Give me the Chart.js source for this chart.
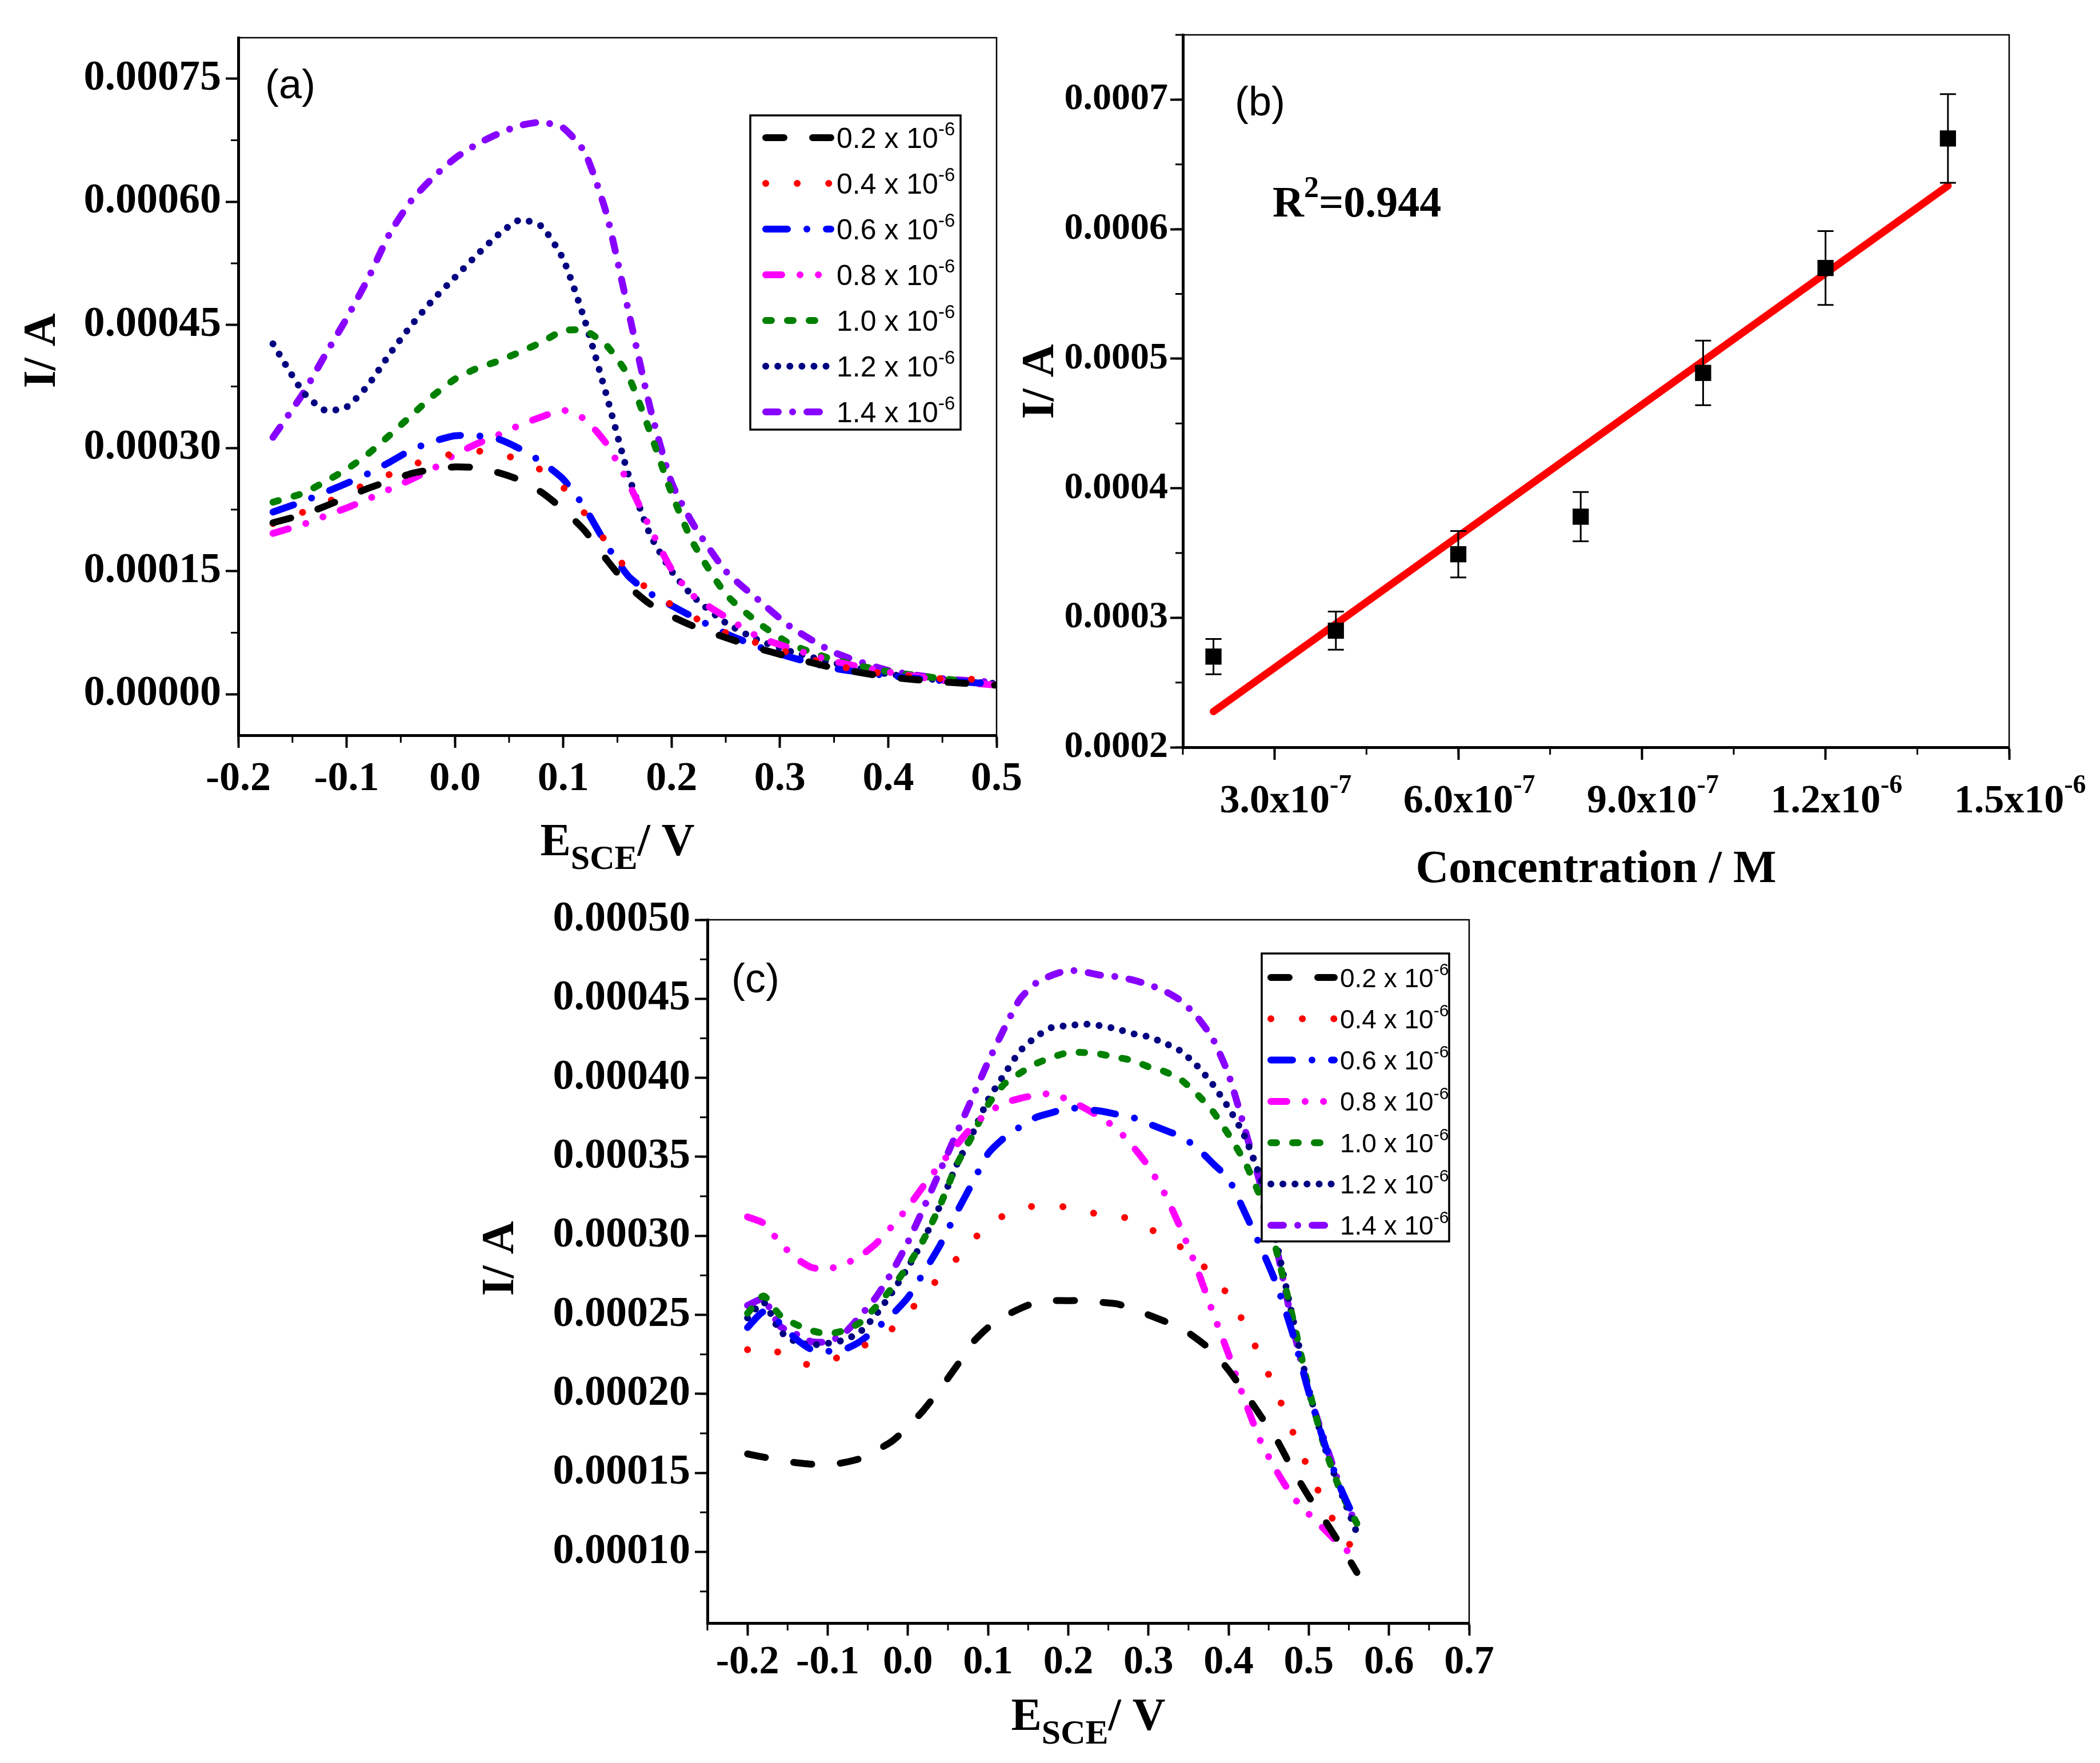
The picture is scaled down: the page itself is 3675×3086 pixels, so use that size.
<!DOCTYPE html>
<html>
<head>
<meta charset="utf-8">
<script src="https://cdn.jsdelivr.net/npm/chart.js@4.4.1/dist/chart.umd.min.js"></script>
<style>
  html, body { margin: 0; padding: 0; background: #fff; }
  body { width: 3675px; height: 3086px; position: relative; overflow: hidden; }
  canvas { position: absolute; }
  #chartA { left: 0; top: 0; }
  #chartB { left: 1780px; top: 0; }
  #chartC { left: 800px; top: 1560px; }
</style>
</head>
<body>
<canvas id="chartA" width="1800" height="1560"></canvas>
<canvas id="chartB" width="1895" height="1600"></canvas>
<canvas id="chartC" width="1900" height="1526"></canvas>
<script>
// legend concentrations (x 10^-6 M)
const concLabels = ['0.2', '0.4', '0.6', '0.8', '1.0', '1.2', '1.4'];

// (a) potential (V) and current (x 1e-4 A)
const potA = [-0.168, -0.14, -0.12, -0.10, -0.08, -0.06, -0.04, -0.02, 0.00, 0.02, 0.04, 0.06, 0.08, 0.10,
  0.12, 0.14, 0.16, 0.18, 0.20, 0.22, 0.25, 0.28, 0.31, 0.35, 0.40, 0.45, 0.50];
const curA02 = [2.09, 2.19, 2.29, 2.40, 2.51, 2.60, 2.69, 2.74, 2.77, 2.76, 2.70, 2.61, 2.46, 2.25, 1.99, 1.64, 1.32, 1.10, 0.95, 0.83, 0.69, 0.56, 0.45, 0.32, 0.21, 0.15, 0.11];
const curA04 = [2.08, 2.22, 2.33, 2.45, 2.57, 2.68, 2.79, 2.88, 2.93, 2.96, 2.95, 2.84, 2.73, 2.52, 2.20, 1.85, 1.50, 1.26, 1.09, 0.94, 0.75, 0.62, 0.50, 0.35, 0.245, 0.19, 0.178];
const curA06 = [2.22, 2.35, 2.46, 2.57, 2.69, 2.83, 2.98, 3.08, 3.15, 3.15, 3.11, 2.99, 2.83, 2.62, 2.27, 1.82, 1.44, 1.23, 1.08, 0.94, 0.74, 0.58, 0.45, 0.315, 0.225, 0.165, 0.124];
const curA08 = [1.96, 2.07, 2.17, 2.27, 2.38, 2.50, 2.62, 2.75, 2.92, 3.05, 3.16, 3.28, 3.38, 3.46, 3.35, 3.05, 2.58, 2.03, 1.52, 1.20, 0.94, 0.70, 0.56, 0.40, 0.27, 0.17, 0.11];
const curA10 = [2.34, 2.45, 2.59, 2.74, 2.93, 3.16, 3.40, 3.64, 3.84, 3.97, 4.06, 4.17, 4.29, 4.43, 4.43, 4.25, 3.88, 3.20, 2.45, 1.84, 1.22, 0.87, 0.61, 0.42, 0.275, 0.19, 0.11];
const curA12 = [4.27, 3.68, 3.46, 3.50, 3.77, 4.15, 4.50, 4.81, 5.08, 5.35, 5.60, 5.78, 5.70, 5.30, 4.55, 3.64, 2.68, 1.95, 1.50, 1.19, 0.87, 0.66, 0.52, 0.38, 0.245, 0.17, 0.13];
const curA14 = [3.13, 3.67, 4.13, 4.58, 5.07, 5.62, 6.02, 6.30, 6.53, 6.70, 6.83, 6.93, 6.97, 6.90, 6.60, 5.85, 4.68, 3.50, 2.58, 2.07, 1.50, 1.15, 0.82, 0.51, 0.29, 0.19, 0.144];

// (b) calibration: concentration (M), current and error (x 1e-4 A), fitted line ends
const concB = [2e-7, 4e-7, 6e-7, 8e-7, 1e-6, 1.2e-6, 1.4e-6];
const curB = [2.70, 2.90, 3.49, 3.78, 4.89, 5.70, 6.70];
const errB = [0.136, 0.147, 0.179, 0.19, 0.249, 0.285, 0.342];
const fitX = [2e-7, 1.4e-6];
const fitY = [2.276, 6.335];

// (c) potential (V) and current (x 1e-4 A)
const potC = [-0.20, -0.18, -0.16, -0.14, -0.12, -0.10, -0.08, -0.06, -0.04, -0.02, 0.00, 0.02, 0.04, 0.06, 0.08, 0.10,
  0.12, 0.14, 0.16, 0.18, 0.20, 0.22, 0.24, 0.26, 0.28, 0.30, 0.32, 0.34, 0.36, 0.38, 0.40, 0.42, 0.44, 0.46, 0.48,
  0.50, 0.52, 0.54, 0.56];
const curC02 = [1.62, 1.60, 1.58, 1.565, 1.555, 1.55, 1.565, 1.59, 1.64, 1.70, 1.79, 1.90, 2.03, 2.17, 2.32, 2.42, 2.49, 2.54, 2.58, 2.59, 2.59, 2.59, 2.58, 2.57, 2.54, 2.50, 2.46, 2.42, 2.35, 2.27, 2.15, 2.01, 1.86, 1.71, 1.52, 1.35, 1.20, 1.04, 0.87];
const curC04 = [2.28, 2.30, 2.26, 2.21, 2.18, 2.20, 2.25, 2.29, 2.35, 2.41, 2.51, 2.63, 2.74, 2.85, 2.97, 3.06, 3.13, 3.17, 3.19, 3.19, 3.18, 3.15, 3.14, 3.13, 3.10, 3.05, 2.99, 2.93, 2.85, 2.75, 2.62, 2.44, 2.23, 2.01, 1.76, 1.52, 1.30, 1.12, 0.99];
const curC06 = [2.42, 2.52, 2.45, 2.35, 2.28, 2.27, 2.28, 2.33, 2.41, 2.50, 2.61, 2.77, 2.94, 3.14, 3.33, 3.52, 3.62, 3.69, 3.75, 3.78, 3.81, 3.80, 3.79, 3.77, 3.75, 3.71, 3.67, 3.63, 3.56, 3.46, 3.36, 3.15, 2.93, 2.69, 2.38, 2.01, 1.68, 1.40, 1.18];
const curC08 = [3.12, 3.08, 2.96, 2.86, 2.80, 2.79, 2.82, 2.87, 2.95, 3.06, 3.18, 3.32, 3.45, 3.57, 3.69, 3.78, 3.84, 3.87, 3.89, 3.90, 3.86, 3.81, 3.75, 3.68, 3.57, 3.44, 3.27, 3.05, 2.80, 2.52, 2.25, 1.96, 1.70, 1.51, 1.35, 1.24, 1.14, 1.04, 0.96];
const curC10 = [2.51, 2.62, 2.50, 2.44, 2.40, 2.38, 2.40, 2.45, 2.55, 2.67, 2.81, 2.98, 3.19, 3.44, 3.63, 3.83, 3.96, 4.03, 4.09, 4.13, 4.16, 4.16, 4.15, 4.13, 4.11, 4.07, 4.04, 3.99, 3.90, 3.79, 3.64, 3.47, 3.24, 2.90, 2.48, 2.03, 1.66, 1.38, 1.18];
const curC12 = [2.48, 2.58, 2.40, 2.33, 2.31, 2.32, 2.34, 2.39, 2.50, 2.64, 2.80, 2.98, 3.19, 3.44, 3.64, 3.86, 4.02, 4.17, 4.26, 4.32, 4.33, 4.34, 4.33, 4.31, 4.28, 4.26, 4.22, 4.17, 4.08, 3.96, 3.81, 3.63, 3.36, 2.95, 2.48, 2.03, 1.66, 1.38, 1.12];
const curC14 = [2.56, 2.60, 2.43, 2.38, 2.33, 2.33, 2.38, 2.49, 2.61, 2.77, 2.96, 3.18, 3.41, 3.64, 3.87, 4.10, 4.31, 4.50, 4.60, 4.65, 4.68, 4.67, 4.65, 4.64, 4.62, 4.59, 4.55, 4.49, 4.39, 4.25, 4.02, 3.68, 3.32, 2.92, 2.43, 2.01, 1.70, 1.40, 1.16];

// tick values
const ticksXA = [-0.2, -0.1, 0, 0.1, 0.2, 0.3, 0.4, 0.5];
const ticksYA = [0, 0.00015, 0.0003, 0.00045, 0.0006, 0.00075];
const ticksXB = [3e-7, 6e-7, 9e-7, 1.2e-6, 1.5e-6];
const tickLabB = ['3.0x10', '6.0x10', '9.0x10', '1.2x10', '1.5x10'];
const tickExpB = ['-7', '-7', '-7', '-6', '-6'];
const ticksYB = [0.0002, 0.0003, 0.0004, 0.0005, 0.0006, 0.0007];
const ticksXC = [-0.2, -0.1, 0, 0.1, 0.2, 0.3, 0.4, 0.5, 0.6, 0.7];
const ticksYC = [0.0001, 0.00015, 0.0002, 0.00025, 0.0003, 0.00035, 0.0004, 0.00045, 0.0005];

// line styles per concentration
const seriesColors = ['#000000', '#ff0000', '#0000ff', '#ff00ff', '#008000', '#000080', '#8800ff'];
const seriesDash = [[32, 50], [0.1, 55], [38, 34, 0.1, 34], [28, 32, 0.1, 32, 0.1, 32], [10, 28], [0.1, 21], [22, 25, 0.1, 25]];

const serifB = s => `bold ${s}px "Liberation Serif", "Times New Roman", serif`;
const sans = s => `${s}px "Liberation Sans", Arial, sans-serif`;

function makeSets(xs, series) {
  return series.map((arr, i) => ({
    label: concLabels[i] + ' x 10-6',
    data: arr.map((v, j) => ({ x: xs[j], y: v * 1e-4 })),
    borderColor: seriesColors[i],
    borderDash: seriesDash[i],
    borderWidth: 12,
    borderCapStyle: 'round',
    borderJoinStyle: 'round',
    pointRadius: 0,
    fill: false,
    tension: 0.2
  }));
}

function axisX(ticks, min, max, h, pad, size, fmt) {
  return {
    type: 'linear', position: 'bottom', min, max,
    afterBuildTicks: s => { s.ticks = ticks.map(v => ({ value: v })); },
    afterFit: s => { s.height = h; s.paddingLeft = 0; s.paddingRight = 0; },
    grid: { drawOnChartArea: false, drawTicks: true, tickLength: 22, tickWidth: 4, tickColor: '#000' },
    border: { display: true, color: '#000', width: 5 },
    ticks: { autoSkip: false, maxRotation: 0, minRotation: 0, padding: pad, color: '#000',
      font: { family: '"Liberation Serif", serif', weight: 'bold', size }, callback: fmt }
  };
}

function axisY(ticks, min, max, w, pad, size, fmt) {
  return {
    type: 'linear', position: 'left', min, max,
    afterBuildTicks: s => { s.ticks = ticks.map(v => ({ value: v })); },
    afterFit: s => { s.width = w; s.paddingTop = 0; s.paddingBottom = 0; },
    grid: { drawOnChartArea: false, drawTicks: true, tickLength: 22, tickWidth: 4, tickColor: '#000' },
    border: { display: true, color: '#000', width: 5 },
    ticks: { autoSkip: false, padding: pad, color: '#000',
      font: { family: '"Liberation Serif", serif', weight: 'bold', size }, callback: fmt }
  };
}

function richWidth(ctx, parts) {
  let w = 0;
  parts.forEach(p => { ctx.font = p.font; w += ctx.measureText(p.t).width; });
  return w;
}

function drawRich(ctx, parts, x, y) {
  ctx.textAlign = 'left';
  ctx.textBaseline = 'alphabetic';
  parts.forEach(p => {
    ctx.font = p.font;
    ctx.fillText(p.t, x, y + (p.dy || 0));
    x += ctx.measureText(p.t).width;
  });
}

function drawRotated(ctx, text, cx, cy, size) {
  ctx.save();
  ctx.font = serifB(size);
  ctx.translate(cx + size * 0.33, cy);
  ctx.rotate(-Math.PI / 2);
  ctx.textAlign = 'center';
  ctx.textBaseline = 'alphabetic';
  ctx.fillText(text, 0, 0);
  ctx.restore();
}

function drawFrame(chart, xStep, yStep) {
  const ctx = chart.ctx, a = chart.chartArea, xs = chart.scales.x, ys = chart.scales.y;
  ctx.save();
  ctx.strokeStyle = '#000';
  ctx.lineWidth = 3;
  ctx.beginPath();
  for (let k = Math.ceil(xs.min / xStep - 1e-6); k * xStep <= xs.max + xStep * 1e-6; k++) {
    const p = xs.getPixelForValue(k * xStep);
    ctx.moveTo(p, a.bottom); ctx.lineTo(p, a.bottom + 13);
  }
  for (let k = Math.ceil(ys.min / yStep - 1e-6); k * yStep <= ys.max + yStep * 1e-6; k++) {
    const p = ys.getPixelForValue(k * yStep);
    ctx.moveTo(a.left, p); ctx.lineTo(a.left - 13, p);
  }
  ctx.stroke();
  ctx.lineWidth = 2.5;
  ctx.strokeRect(a.left, a.top, a.right - a.left, a.bottom - a.top);
  ctx.restore();
}

function drawLegend(chart, box) {
  const ctx = chart.ctx;
  ctx.save();
  ctx.fillStyle = '#fff';
  ctx.fillRect(box.x, box.y, box.w, box.h);
  ctx.strokeStyle = '#000';
  ctx.lineWidth = 3.5;
  ctx.strokeRect(box.x, box.y, box.w, box.h);
  chart.data.datasets.forEach((ds, i) => {
    const cy = box.row0 + i * box.rowH;
    ctx.save();
    ctx.strokeStyle = ds.borderColor;
    ctx.lineWidth = 12;
    ctx.lineCap = 'round';
    ctx.setLineDash(ds.borderDash);
    ctx.beginPath();
    ctx.moveTo(box.s0, cy);
    ctx.lineTo(box.s1, cy);
    ctx.stroke();
    ctx.restore();
    ctx.fillStyle = '#000';
    drawRich(ctx, [
      { t: concLabels[i] + ' x 10', font: sans(box.font) },
      { t: '-6', font: sans(Math.round(box.font * 0.65)), dy: -box.font * 0.45 }
    ], box.tx, cy + box.font * 0.36);
  });
  ctx.restore();
}

function drawESce(ctx, cx, baseY, size) {
  const parts = [
    { t: 'E', font: serifB(size) },
    { t: 'SCE', font: serifB(Math.round(size * 0.75)), dy: size * 0.3 },
    { t: '/ V', font: serifB(size) }
  ];
  ctx.fillStyle = '#000';
  drawRich(ctx, parts, cx - richWidth(ctx, parts) / 2, baseY);
}

function drawPanelLabel(ctx, text, x, cy) {
  ctx.fillStyle = '#000';
  ctx.font = sans(72);
  ctx.textAlign = 'left';
  ctx.textBaseline = 'middle';
  ctx.fillText(text, x, cy);
}

// ---------- (a) ----------
const decorA = {
  id: 'decorA',
  afterDraw(chart) {
    const ctx = chart.ctx, a = chart.chartArea;
    drawFrame(chart, 0.05, 0.000075);
    drawLegend(chart, { x: 1313, y: 202, w: 368, h: 550, row0: 241, rowH: 80, s0: 1340, s1: 1454, tx: 1464, font: 50 });
    drawPanelLabel(ctx, '(a)', 464, 152);
    ctx.fillStyle = '#000';
    drawRotated(ctx, 'I/ A', 70, 614, 80);
    drawESce(ctx, (a.left + a.right) / 2, 1497, 80);
  }
};

new Chart(document.getElementById('chartA'), {
  type: 'line',
  data: { datasets: makeSets(potA, [curA02, curA04, curA06, curA08, curA10, curA12, curA14]) },
  options: {
    responsive: false, animation: false, devicePixelRatio: 1,
    layout: { padding: { left: 0, top: 66, right: 56, bottom: 0 } },
    plugins: { legend: { display: false }, tooltip: { enabled: false } },
    scales: {
      x: axisX(ticksXA, -0.2, 0.5, 273, 12, 72, v => v.toFixed(1)),
      y: axisY(ticksYA, -0.00005, 0.0008, 417, 8, 74, v => v.toFixed(5))
    }
  },
  plugins: [decorA]
});

// ---------- (b) ----------
const decorB = {
  id: 'decorB',
  afterDatasetsDraw(chart) {
    const ctx = chart.ctx, xs = chart.scales.x, ys = chart.scales.y;
    ctx.save();
    ctx.strokeStyle = '#000';
    ctx.lineWidth = 3;
    ctx.beginPath();
    concB.forEach((c, i) => {
      const px = xs.getPixelForValue(c);
      const top = ys.getPixelForValue((curB[i] + errB[i]) * 1e-4);
      const bot = ys.getPixelForValue((curB[i] - errB[i]) * 1e-4);
      ctx.moveTo(px, top); ctx.lineTo(px, bot);
      ctx.moveTo(px - 14, top); ctx.lineTo(px + 14, top);
      ctx.moveTo(px - 14, bot); ctx.lineTo(px + 14, bot);
    });
    ctx.stroke();
    ctx.restore();
  },
  afterDraw(chart) {
    const ctx = chart.ctx, a = chart.chartArea, xs = chart.scales.x;
    drawFrame(chart, 1.5e-7, 0.00005);
    ctx.fillStyle = '#000';
    ticksXB.forEach((v, i) => {
      const px = xs.getPixelForValue(v);
      ctx.font = serifB(70);
      const w = ctx.measureText(tickLabB[i]).width;
      drawRich(ctx, [
        { t: tickLabB[i], font: serifB(70) },
        { t: tickExpB[i], font: serifB(46), dy: -34 }
      ], px - w / 2, 1422);
    });
    drawPanelLabel(ctx, '(b)', 381, 182);
    drawRich(ctx, [
      { t: 'R', font: serifB(76) },
      { t: '2', font: serifB(52), dy: -34 },
      { t: '=0.944', font: serifB(76) }
    ], 447, 379);
    drawRotated(ctx, 'I/ A', 37, 668, 80);
    ctx.font = serifB(80);
    ctx.textAlign = 'center';
    ctx.textBaseline = 'alphabetic';
    ctx.fillText('Concentration / M', (a.left + a.right) / 2, 1544);
  }
};

new Chart(document.getElementById('chartB'), {
  type: 'line',
  data: {
    datasets: [
      {
        label: 'I',
        data: concB.map((c, i) => ({ x: c, y: curB[i] * 1e-4 })),
        showLine: false,
        pointStyle: 'rect',
        pointRadius: 20,
        pointBackgroundColor: '#000',
        pointBorderWidth: 0
      },
      {
        label: 'fit',
        data: fitX.map((c, i) => ({ x: c, y: fitY[i] * 1e-4 })),
        borderColor: '#ff0000',
        borderWidth: 13,
        borderCapStyle: 'round',
        pointRadius: 0
      }
    ]
  },
  options: {
    responsive: false, animation: false, devicePixelRatio: 1,
    layout: { padding: { left: 0, top: 61, right: 159, bottom: 0 } },
    plugins: { legend: { display: false }, tooltip: { enabled: false } },
    scales: {
      x: axisX(ticksXB, 1.5e-7, 1.5e-6, 292, 12, 70, () => ''),
      y: axisY(ticksYB, 0.0002, 0.00075, 290, 4, 66, v => v.toFixed(4))
    }
  },
  plugins: [decorB]
});

// ---------- (c) ----------
const decorC = {
  id: 'decorC',
  afterDraw(chart) {
    const ctx = chart.ctx, a = chart.chartArea;
    drawFrame(chart, 0.05, 0.000025);
    drawLegend(chart, { x: 1408, y: 109, w: 328, h: 504, row0: 151, rowH: 72.3, s0: 1424, s1: 1535, tx: 1545, font: 46 });
    drawPanelLabel(ctx, '(c)', 480, 157);
    ctx.fillStyle = '#000';
    drawRotated(ctx, 'I/ A', 72, 643, 80);
    drawESce(ctx, (a.left + a.right) / 2, 1468, 80);
  }
};

new Chart(document.getElementById('chartC'), {
  type: 'line',
  data: { datasets: makeSets(potC, [curC02, curC04, curC06, curC08, curC10, curC12, curC14]) },
  options: {
    responsive: false, animation: false, devicePixelRatio: 1,
    layout: { padding: { left: 0, top: 50, right: 129, bottom: 0 } },
    plugins: { legend: { display: false }, tooltip: { enabled: false } },
    scales: {
      x: axisX(ticksXC, -0.25, 0.7, 245, 6, 70, v => v.toFixed(1)),
      y: axisY(ticksYC, 0.000055, 0.0005, 438, 8, 74, v => v.toFixed(5))
    }
  },
  plugins: [decorC]
});
</script>
</body>
</html>
